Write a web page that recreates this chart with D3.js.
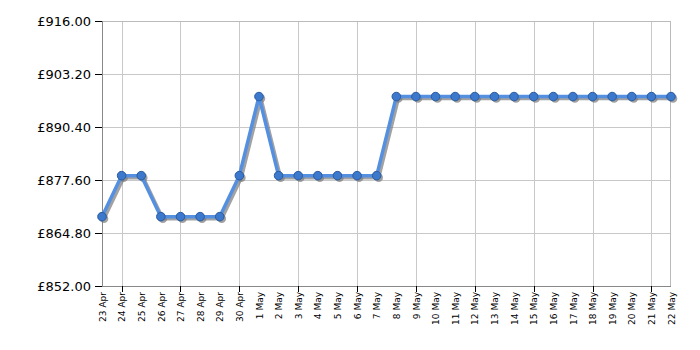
<!DOCTYPE html>
<html><head><meta charset="utf-8">
<script src="https://cdn.jsdelivr.net/npm/d3@7"></script>
<style>body{margin:0;background:#fff}svg{display:block}</style>
</head><body>
<svg id="c" width="700" height="350"></svg>
<script>
const dates = ["23 Apr","24 Apr","25 Apr","26 Apr","27 Apr","28 Apr","29 Apr","30 Apr",
"1 May","2 May","3 May","4 May","5 May","6 May","7 May","8 May","9 May","10 May","11 May",
"12 May","13 May","14 May","15 May","16 May","17 May","18 May","19 May","20 May","21 May","22 May"];
const prices = [868.75,878.65,878.65,868.75,868.75,868.75,868.75,878.65,
897.75,878.65,878.65,878.65,878.65,878.65,878.65,897.75,897.75,897.75,897.75,
897.75,897.75,897.75,897.75,897.75,897.75,897.75,897.75,897.75,897.75,897.75];
const yTicks = [852, 864.8, 877.6, 890.4, 903.2, 916];
const gridDates = ["24 Apr","27 Apr","30 Apr","3 May","6 May","9 May","12 May","15 May","18 May","21 May"];

const svg = d3.select("#c");
const L=102, R=671, T=21, B=286;
const x = d3.scalePoint().domain(dates).range([L,R]);
const y = d3.scaleLinear().domain([852,916]).range([B,T]);
const font = "'DejaVu Sans', Verdana, sans-serif";

// grid
svg.append("g").selectAll("line").data(yTicks).join("line")
  .attr("x1",L).attr("x2",R).attr("y1",d=>y(d)).attr("y2",d=>y(d))
  .attr("stroke","#c8c8c8").attr("stroke-width",1).attr("shape-rendering","crispEdges");
svg.append("g").selectAll("line").data(gridDates).join("line")
  .attr("x1",d=>Math.round(x(d))+0.5).attr("x2",d=>Math.round(x(d))+0.5).attr("y1",T).attr("y2",B)
  .attr("stroke","#c8c8c8").attr("stroke-width",1);
// border
svg.append("rect").attr("x",L+0.5).attr("y",T+0.5).attr("width",R-L-1).attr("height",B-T)
  .attr("fill","none").attr("stroke","#bbb");
svg.append("line").attr("x1",L+0.5).attr("x2",L+0.5).attr("y1",T).attr("y2",B+0.5).attr("stroke","#888");
svg.append("line").attr("x1",L).attr("x2",R).attr("y1",B+0.5).attr("y2",B+0.5).attr("stroke","#888");

// y axis
const ya = svg.append("g").attr("transform",`translate(${L},0)`)
  .call(d3.axisLeft(y).tickValues(yTicks).tickSize(7).tickFormat(d=>"£"+d.toFixed(2)));
ya.select(".domain").remove();
ya.selectAll(".tick line").attr("stroke","#000");
ya.selectAll("text").attr("font-family",font).attr("font-size",13).attr("fill","#000").attr("x",-11);

// x axis
const xa = svg.append("g").attr("transform",`translate(0,${B})`)
  .call(d3.axisBottom(x).tickSize(0));
xa.select(".domain").remove();
xa.selectAll(".tick text").attr("font-family",font).attr("font-size",9).attr("fill","#000")
  .attr("transform","rotate(-90)").attr("text-anchor","end").attr("x",-6).attr("y",0).attr("dy","0.35em");
svg.append("g").selectAll("line").data(gridDates).join("line")
  .attr("x1",d=>Math.round(x(d))+0.5).attr("x2",d=>Math.round(x(d))+0.5).attr("y1",B).attr("y2",B+6)
  .attr("stroke","#000");

// line + shadow
const line = d3.line().x((d,i)=>x(dates[i])).y(d=>y(d));
svg.append("path").datum(prices).attr("d",line).attr("transform","translate(2,2)")
  .attr("fill","none").attr("stroke","#7a7a7a").attr("stroke-width",3.5).attr("opacity",0.7).attr("stroke-linejoin","round");
svg.append("g").selectAll("circle").data(prices).join("circle")
  .attr("cx",(d,i)=>x(dates[i])+2).attr("cy",d=>y(d)+2).attr("r",4.3).attr("fill","#7a7a7a").attr("opacity",0.7);
svg.append("path").datum(prices).attr("d",line)
  .attr("fill","none").attr("stroke","#5590e0").attr("stroke-width",3.5).attr("stroke-linejoin","round");
svg.append("g").selectAll("circle").data(prices).join("circle")
  .attr("cx",(d,i)=>x(dates[i])).attr("cy",d=>y(d)).attr("r",4.3)
  .attr("fill","#3c78cc").attr("stroke","#2b5b9e").attr("stroke-width",1);
</script>
</body></html>
